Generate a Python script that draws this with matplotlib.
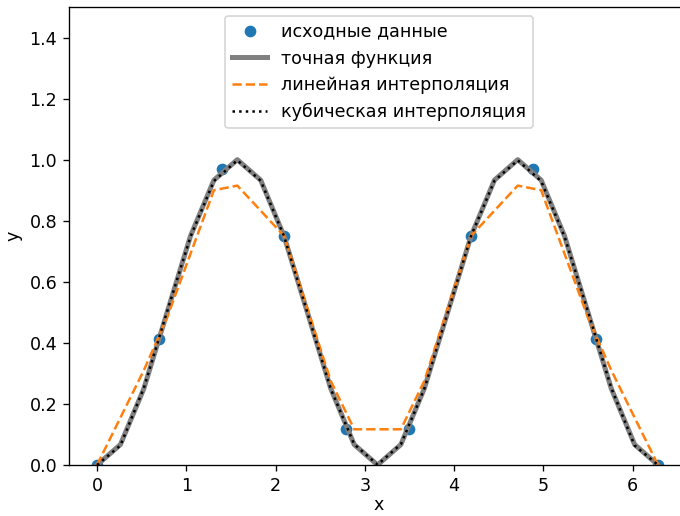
import matplotlib
matplotlib.use('Agg')
import matplotlib.pyplot as plt

# исходные точки (10 узлов на [0, 2pi])
x_data = [0.0, 0.698, 1.396, 2.094, 2.793, 3.491, 4.189, 4.887, 5.585, 6.283]
y_data = [0.0, 0.413, 0.970, 0.750, 0.117, 0.117, 0.750, 0.970, 0.413, 0.0]

# мелкая сетка (25 узлов)
x_fine = [0.0, 0.262, 0.524, 0.785, 1.047, 1.309, 1.571, 1.833, 2.094, 2.356,
          2.618, 2.880, 3.142, 3.403, 3.665, 3.927, 4.189, 4.451, 4.712, 4.974,
          5.236, 5.498, 5.760, 6.021, 6.283]
y_exact = [0.0, 0.067, 0.250, 0.500, 0.750, 0.933, 1.000, 0.933, 0.750, 0.500,
           0.250, 0.067, 0.0, 0.067, 0.250, 0.500, 0.750, 0.933, 1.000, 0.933,
           0.750, 0.500, 0.250, 0.067, 0.0]
y_linear = [0.0, 0.155, 0.310, 0.483, 0.692, 0.900, 0.915, 0.833, 0.750, 0.513,
            0.275, 0.117, 0.117, 0.117, 0.275, 0.513, 0.750, 0.833, 0.915, 0.900,
            0.692, 0.483, 0.310, 0.155, 0.0]
y_cubic = [0.0, 0.064, 0.252, 0.503, 0.748, 0.930, 0.998, 0.931, 0.750, 0.499,
           0.249, 0.068, 0.001, 0.068, 0.249, 0.499, 0.750, 0.931, 0.998, 0.930,
           0.748, 0.503, 0.252, 0.064, 0.0]

plt.rcParams['font.size'] = 10.5

# рисунок масштабирован примерно в 1.2 раза и обрезан справа
fig = plt.figure(figsize=(680 / 120, 516 / 120), dpi=120)
ax = fig.add_axes([69 / 680, 51 / 516, 620 / 680, 458 / 516])
ax.set_xlim(-0.314, 6.63)

ax.plot(x_data, y_data, 'o', label='исходные данные')
ax.plot(x_fine, y_exact, color='gray', linewidth=3, label='точная функция')
ax.plot(x_fine, y_linear, '--', color='C1', label='линейная интерполяция')
ax.plot(x_fine, y_cubic, ':', color='k', label='кубическая интерполяция')

ax.set_ylim(0, 1.5)
ax.set_xlabel('x', labelpad=1)
ax.set_ylabel('y')
ax.legend(loc='upper center')

plt.savefig('out.png')
